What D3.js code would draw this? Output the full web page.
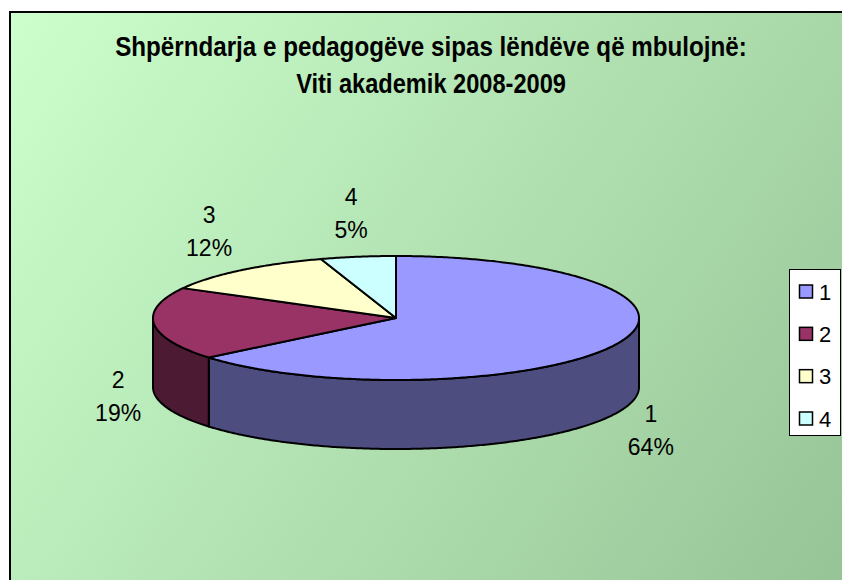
<!DOCTYPE html>
<html>
<head>
<meta charset="utf-8">
<script src="https://cdn.jsdelivr.net/npm/d3@7"></script>
<style>
  html, body { margin: 0; padding: 0; background: #fff; }
  svg { display: block; }
</style>
</head>
<body>
<script>
// ---- data ----
const categories = ["1", "2", "3", "4"];
const values = [64, 19, 12, 5];
const sliceColors = ["#9999ff", "#993366", "#ffffcc", "#ccffff"];
const titleLines = ["Shpërndarja e pedagogëve sipas lëndëve që mbulojnë:", "Viti akademik 2008-2009"];

// ---- layout ----
const W = 842, H = 580;
const cx = 396, cy = 318, rx = 243, ry = 62, depth = 69;
const labelFont = "'Liberation Sans', Arial, sans-serif";
const titleFont = "'Liberation Sans Narrow', 'Arial Narrow', 'Liberation Sans', Arial, sans-serif";

const svg = d3.select("body").append("svg").attr("width", W).attr("height", H);
const defs = svg.append("defs");
const grad = defs.append("linearGradient").attr("id", "bg")
  .attr("gradientUnits", "userSpaceOnUse")
  .attr("x1", 9).attr("y1", 11).attr("x2", 842).attr("y2", 580);
grad.append("stop").attr("offset", "0%").attr("stop-color", "#ccffcc");
grad.append("stop").attr("offset", "100%").attr("stop-color", "#97c497");

svg.append("rect").attr("width", W).attr("height", H).attr("fill", "#ffffff");
svg.append("rect").attr("x", 10).attr("y", 12).attr("width", 860).attr("height", 600)
  .attr("fill", "url(#bg)").attr("stroke", "#000").attr("stroke-width", 2);

// title (condensed horizontally to the reference's narrow face)
const titleBase = [56, 93];
const titleWidth = [632, 270];
titleLines.forEach((t, i) => {
  const g = svg.append("g");
  const txt = g.append("text")
    .attr("x", 0).attr("y", 0)
    .attr("text-anchor", "middle")
    .attr("font-family", titleFont)
    .attr("font-weight", "bold")
    .attr("font-size", 28)
    .attr("fill", "#000")
    .text(t);
  const len = txt.node().getComputedTextLength() || titleWidth[i];
  g.attr("transform", `translate(431,${titleBase[i]}) scale(${titleWidth[i] / len},1)`);
});

// pie
const pie = d3.pie().sort(null).value(d => d);
const arcs = pie(values);
const total = d3.sum(values);
const pt = (a, dy = 0) => [cx + rx * Math.sin(a), cy - ry * Math.cos(a) + dy];
const line = d3.line();
function arcPts(a0, a1, dy) {
  const n = Math.max(2, Math.ceil(Math.abs(a1 - a0) / 0.01));
  return d3.range(n + 1).map(i => pt(a0 + (a1 - a0) * i / n, dy));
}
const darken = c => { const r = d3.rgb(c); return d3.rgb(r.r * 0.5, r.g * 0.5, r.b * 0.5).formatHex(); };

const gPie = svg.append("g");
// outer walls (front half only)
arcs.forEach((d, i) => {
  const lo = Math.max(d.startAngle, Math.PI / 2);
  const hi = Math.min(d.endAngle, 3 * Math.PI / 2);
  if (lo < hi) {
    const pts = arcPts(lo, hi, 0).concat(arcPts(hi, lo, depth));
    gPie.append("path")
      .attr("d", line(pts) + "Z")
      .attr("fill", darken(sliceColors[i]))
      .attr("stroke", "#000").attr("stroke-width", 2)
      .attr("stroke-linejoin", "round");
  }
});
// top faces
arcs.forEach((d, i) => {
  const pts = [[cx, cy]].concat(arcPts(d.startAngle, d.endAngle, 0));
  gPie.append("path")
    .attr("d", line(pts) + "Z")
    .attr("fill", sliceColors[i])
    .attr("stroke", "#000").attr("stroke-width", 2)
    .attr("stroke-linejoin", "round");
});

// data labels: label box placed just outside the pie edge along the mid-angle
const pct = d3.format(".0%");
const hw = 25, hh = 33, gap = 11, lineGap = 33, fs = 23;
arcs.forEach((d, i) => {
  const a = (d.startAngle + d.endAngle) / 2;
  const ux = Math.sin(a), uy = -Math.cos(a);
  const e = pt(a, uy > 0 ? depth : 0);
  const t = Math.min(Math.abs(ux) > 1e-6 ? hw / Math.abs(ux) : Infinity,
                     Math.abs(uy) > 1e-6 ? hh / Math.abs(uy) : Infinity);
  const lx = e[0] + ux * (t + gap);
  const ly = e[1] + uy * (t + gap);
  const g = svg.append("g").attr("font-family", labelFont).attr("font-size", fs)
    .attr("text-anchor", "middle").attr("fill", "#000");
  g.append("text").attr("x", lx).attr("y", ly - lineGap / 2 + fs * 0.36).text(categories[i]);
  g.append("text").attr("x", lx).attr("y", ly + lineGap / 2 + fs * 0.36).text(pct(d.data / total));
});

// legend
const legend = svg.append("g");
legend.append("rect").attr("x", 789.5).attr("y", 269.5).attr("width", 51).attr("height", 166)
  .attr("fill", "#ffffff").attr("stroke", "#000").attr("stroke-width", 1);
const ly = d3.scalePoint().domain(categories).range([291.5, 418.5]);
categories.forEach((c, i) => {
  legend.append("rect")
    .attr("x", 799.5).attr("y", ly(c) - 6.5).attr("width", 13).attr("height", 13)
    .attr("fill", sliceColors[i]).attr("stroke", "#000").attr("stroke-width", 1.5);
  legend.append("text")
    .attr("x", 819).attr("y", ly(c) + 8)
    .attr("font-family", labelFont).attr("font-size", 22).attr("fill", "#000")
    .text(c);
});
</script>
</body>
</html>
